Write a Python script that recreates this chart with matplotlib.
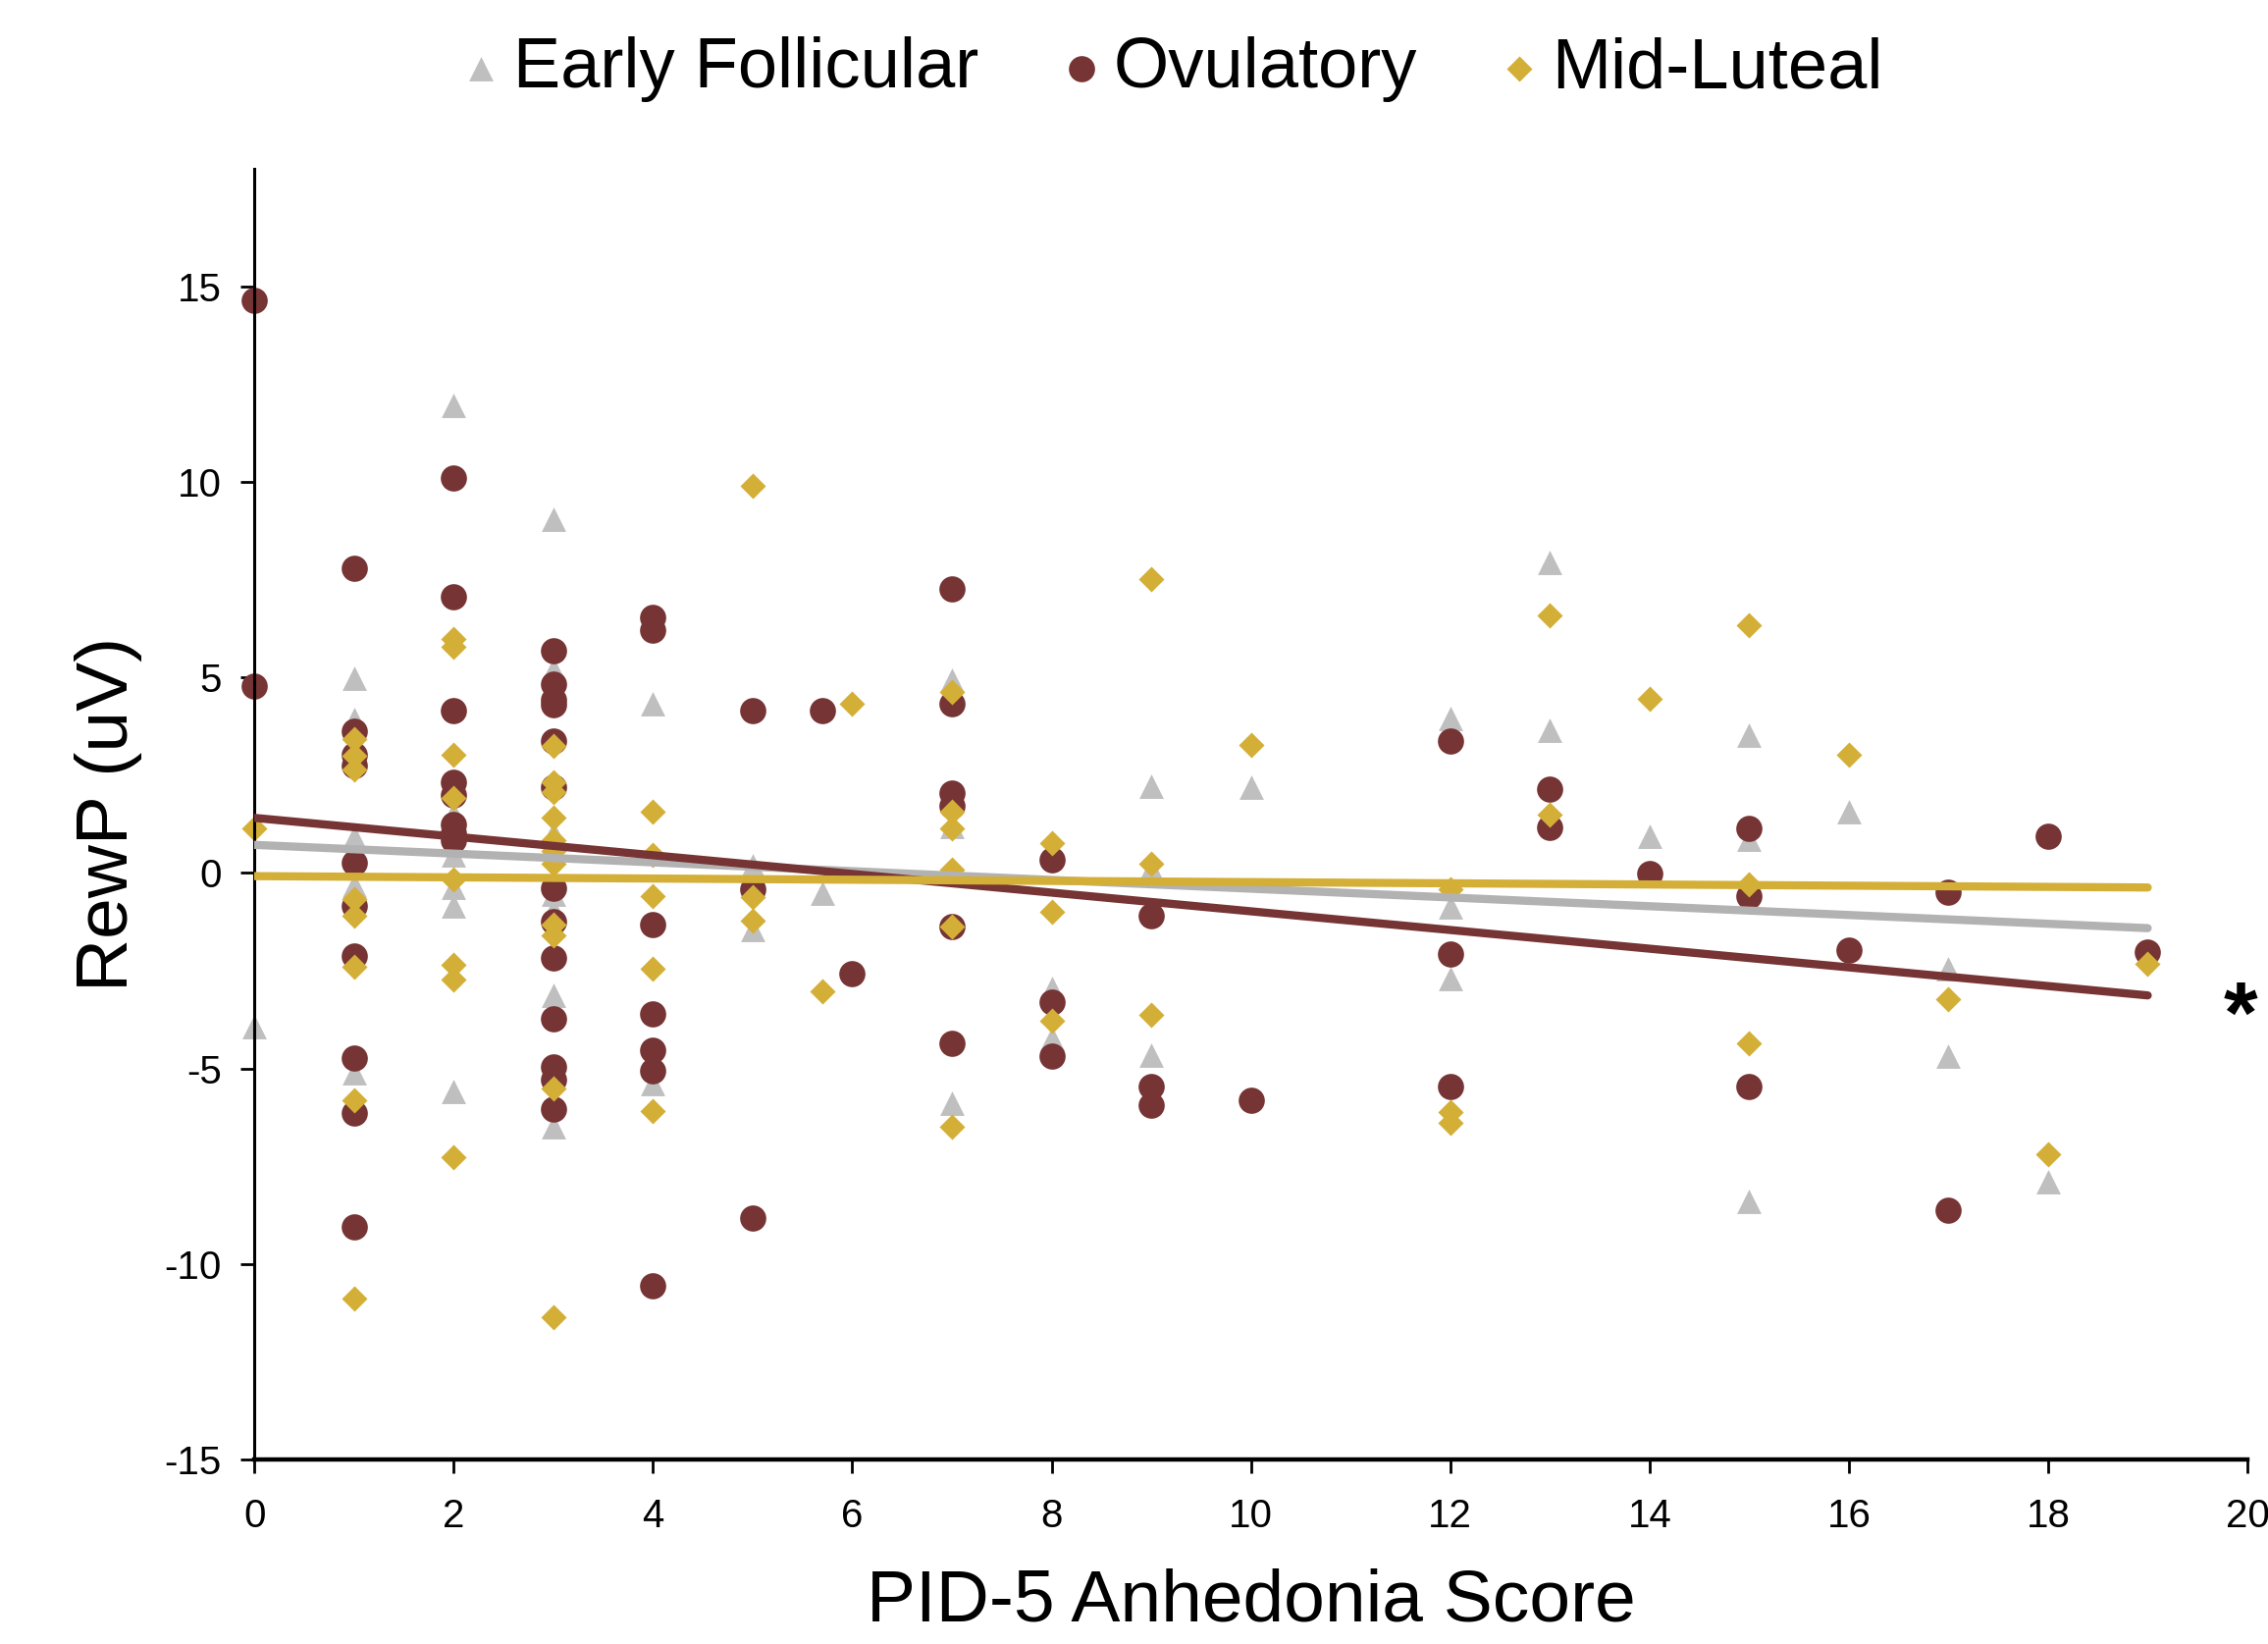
import matplotlib
matplotlib.use("Agg")
import matplotlib.pyplot as plt

plt.rcParams['font.family'] = ['Liberation Sans', 'DejaVu Sans']
plt.rcParams['axes.unicode_minus'] = False

# Early Follicular (grey triangles)
ef_x = [0,
        1, 1, 1, 1, 1,
        2, 2, 2, 2, 2, 2,
        3, 3, 3, 3, 3, 3, 3,
        4, 4, 5, 5, 5.7,
        7, 7, 7, 8, 8, 9, 9, 9, 10,
        12, 12, 12, 13, 13, 14, 15, 15, 15, 16, 17, 17, 18]
ef_y = [-3.94,
        4.99, 3.93, 0.91, -0.32, -5.10,
        11.95, 1.52, 0.46, -0.36, -0.83, -5.58,
        9.04, 5.21, 1.02, -0.55, -0.94, -3.13, -6.49,
        4.32, -5.38, 0.18, -1.45, -0.52,
        4.92, 1.20, -5.88, -2.95, -4.23, 2.21, 0.10, -4.65, 2.19,
        3.95, -0.86, -2.71, 7.94, 3.66, 0.94, 3.52, 0.87, -8.39, 1.58, -2.45, -4.67, -7.90]

# Ovulatory (dark red circles)
ov_x = [0, 0,
        1, 1, 1, 1, 1, 1, 1, 1, 1, 1,
        2, 2, 2, 2, 2, 2, 2, 2,
        3, 3, 3, 3, 3, 3, 3, 3, 3, 3, 3, 3, 3,
        4, 4, 4, 4, 4, 4, 4,
        5, 5, 5, 5.7, 6,
        7, 7, 7, 7, 7, 7,
        8, 8, 8, 9, 9, 9, 10,
        12, 12, 12, 13, 13, 14, 15, 15, 15, 16, 17, 17, 18, 19]
ov_y = [14.64, 4.79,
        7.79, 3.62, 3.03, 2.75, 0.27, -0.84, -2.12, -4.73, -6.13, -9.04,
        10.11, 7.06, 4.15, 2.33, 1.99, 1.24, 1.02, 0.85,
        5.69, 4.82, 4.43, 4.30, 3.37, 2.19, -0.38, -1.25, -2.16, -3.72, -4.95, -5.29, -6.04,
        6.55, 6.22, -1.33, -3.61, -4.52, -5.05, -10.55,
        4.15, -0.42, -8.82, 4.15, -2.57,
        7.26, 4.34, 2.04, 1.72, -1.38, -4.36,
        0.35, -3.31, -4.68, -1.10, -5.45, -5.93, -5.80,
        3.37, -2.07, -5.46, 2.15, 1.17, -0.02, 1.13, -0.60, -5.46, -1.98, -0.50, -8.63, 0.94, -2.01]

# Mid-Luteal (gold diamonds)
ml_x = [0,
        1, 1, 1, 1, 1, 1, 1, 1,
        2, 2, 2, 2, 2, 2, 2, 2,
        3, 3, 3, 3, 3, 3, 3, 3, 3, 3, 3,
        4, 4, 4, 4, 4,
        5, 5, 5, 5.7, 6,
        7, 7, 7, 7, 7, 7,
        8, 8, 8, 9, 9, 9, 10,
        12, 12, 12, 13, 13, 14, 15, 15, 15, 16, 17, 18, 19]
ml_y = [1.13,
        3.42, 3.00, 2.64, -0.67, -1.09, -2.40, -5.80, -10.88,
        5.99, 5.79, 3.03, 1.91, -0.16, -2.34, -2.72, -7.26,
        3.26, 2.33, 2.06, 1.41, 0.85, 0.57, 0.24, -1.32, -1.59, -5.51, -11.35,
        1.58, 0.46, -0.60, -2.45, -6.08,
        9.89, -0.62, -1.23, -3.02, 4.34,
        4.64, 1.57, 1.14, 0.09, -1.38, -6.50,
        0.76, -0.99, -3.79, 7.52, 0.25, -3.63, 3.28,
        -0.41, -6.11, -6.39, 6.60, 1.49, 4.46, 6.34, -0.28, -4.35, 3.02, -3.23, -7.19, -2.33]

# trend lines, values read at x = 0 and x = 19
trend_x = [0, 19]
ef_trend = [0.72, -1.41]
ov_trend = [1.41, -3.13]
ml_trend = [-0.08, -0.37]

grey = '#BFBFBF'
red = '#763434'
gold = '#D4AF37'

fig = plt.figure(figsize=(11.555, 8.375), dpi=200)
ax = fig.add_axes([0.1122, 0.1122, 0.8787, 0.7849])

ax.scatter(ef_x, ef_y, marker='^', s=80, color=grey, linewidths=0, zorder=2,
           clip_on=False, label='Early Follicular')
ax.scatter(ov_x, ov_y, marker='o', s=92, color=red, linewidths=0, zorder=2,
           clip_on=False, label='Ovulatory')
ax.scatter(ml_x, ml_y, marker='D', s=44, color=gold, linewidths=0, zorder=2,
           clip_on=False, label='Mid-Luteal')

ax.plot(trend_x, ef_trend, color='#B2B2B2', lw=3, solid_capstyle='round', zorder=3)
ax.plot(trend_x, ov_trend, color=red, lw=3, solid_capstyle='round', zorder=3)
ax.plot(trend_x, ml_trend, color=gold, lw=3, solid_capstyle='round', zorder=3)

ax.set_xlim(0, 20)
ax.set_ylim(-15, 18)
ax.set_xticks(range(0, 21, 2))
ax.set_yticks(range(-15, 16, 5))

for side in ['top', 'right']:
    ax.spines[side].set_visible(False)
ax.spines['left'].set_linewidth(1.1)
ax.spines['bottom'].set_linewidth(1.6)
ax.tick_params(axis='both', direction='out', length=5, width=1.0, labelsize=14.5)
ax.tick_params(axis='y', pad=7)
ax.tick_params(axis='x', pad=9)

ax.set_xlabel('PID-5 Anhedonia Score', fontsize=27, labelpad=12)
ax.set_ylabel('RewP (uV)', fontsize=27, labelpad=8)

# significance marker for the ovulatory slope
ax.text(19.93, -3.75, '*', fontsize=32, fontweight='bold', ha='center', va='center', clip_on=False)

leg = fig.legend(loc='upper center', bbox_to_anchor=(0.518, 1.008), ncol=3, frameon=False,
                 fontsize=26, handlelength=0.4, handletextpad=0.25, columnspacing=1.25,
                 borderaxespad=0.3)

fig.savefig('out.png', dpi=200)
